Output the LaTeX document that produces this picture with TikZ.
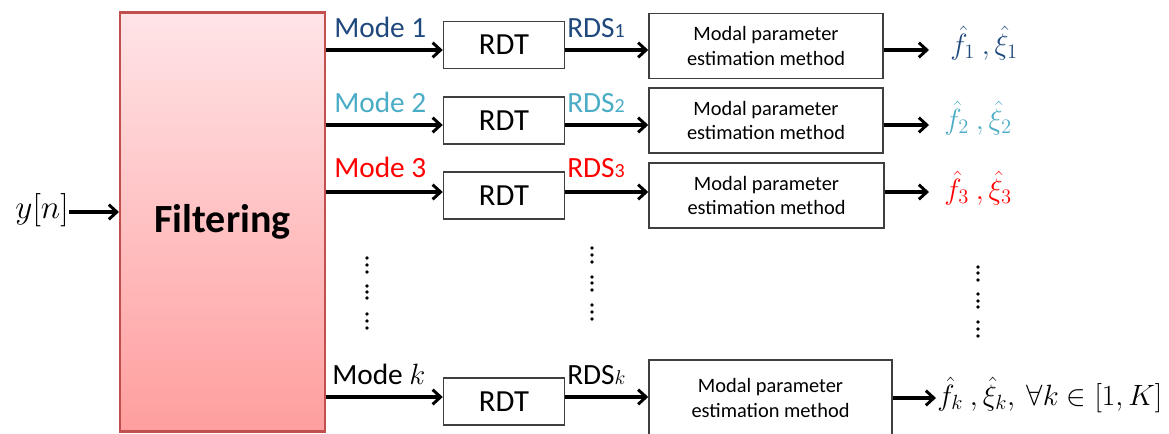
\RequirePackage{fix-cm}
\documentclass[tikz,border=0pt]{standalone}
\usepackage{fontspec}
\setmainfont{Carlito}
\usetikzlibrary{arrows.meta}
\definecolor{darkblue}{HTML}{1F497D}
\definecolor{lightblue}{HTML}{4BACC6}
\definecolor{boxgray}{HTML}{3F3F3F}
\definecolor{filtborder}{HTML}{C0504D}
\definecolor{filttop}{HTML}{FFE4E7}
\definecolor{filtbot}{HTML}{FF9E9E}
\newcommand{\modefont}{\fontsize{22}{26}\selectfont}
\newcommand{\smallnum}{\fontsize{15}{18}\selectfont}
\tikzset{
  arr/.style={line width=2.3pt, -{Straight Barb[length=6pt,width=11pt,line width=2.2pt]}},
  box/.style={draw=boxgray, line width=1.1pt, fill=white, inner sep=0pt, align=center},
  rdtbox/.style={box, minimum width=90.75pt, minimum height=35.25pt, font=\fontsize{23}{27}\selectfont},
  mpebox/.style={box, minimum width=175.5pt, minimum height=48.75pt, font=\fontsize{15.3}{18.2}\selectfont},
  lbl/.style={anchor=base west, inner sep=0pt, font=\modefont},
  outlbl/.style={anchor=west, inner sep=0pt, font=\fontsize{22}{26}\selectfont},
  dotmark/.style={fill=black, draw=none}
}
\begin{document}
\begin{tikzpicture}[x=0.75pt, y=-0.75pt]
\useasboundingbox (0,0) rectangle (1169,433);
\clip (0,0) rectangle (1169,433);
% filtering block
\node[draw=filtborder, line width=2.2pt, top color=filttop, bottom color=filtbot,
      minimum width=153.75pt, minimum height=314.25pt, inner sep=0pt,
      font=\fontsize{30}{34}\selectfont\bfseries] (filt) at (222.5,222) {Filtering};
% input
\node[anchor=east, inner sep=0pt, font=\fontsize{25}{29}\selectfont] (yn) at (69,210) {$y[n]$};
\coordinate (yin) at (119,212);
\draw[arr] (yn.east |- yin) -- (yin);

% row y-levels
\coordinate (a1) at (0,50);
\coordinate (a2) at (0,125);
\coordinate (a3) at (0,192);
\coordinate (a4) at (0,397);

% RDT boxes
\node[rdtbox] (rdt1) at (504,45) {RDT};
\node[rdtbox] (rdt2) at (504,120.5) {RDT};
\node[rdtbox] (rdt3) at (504,195.5) {RDT};
\node[rdtbox] (rdt4) at (504,401.5) {RDT};

% modal parameter boxes
\node[mpebox] (mpe1) at (766,46) {Modal parameter\\estimation method};
\node[mpebox] (mpe2) at (766,120.5) {Modal parameter\\estimation method};
\node[mpebox, minimum width=176.25pt] (mpe3) at (766.5,195.5) {Modal parameter\\estimation method};
\node[mpebox, minimum width=182.25pt, minimum height=57pt] (mpe4) at (770.5,398) {Modal parameter\\estimation method};

% arrows filter -> RDT
\draw[arr] (filt.east |- a1) -- (rdt1.west |- a1);
\draw[arr] (filt.east |- a2) -- (rdt2.west |- a2);
\draw[arr] (filt.east |- a3) -- (rdt3.west |- a3);
\draw[arr] (filt.east |- a4) -- (rdt4.west |- a4);
% arrows RDT -> modal
\draw[arr] (rdt1.east |- a1) -- (mpe1.west |- a1);
\draw[arr] (rdt2.east |- a2) -- (mpe2.west |- a2);
\draw[arr] (rdt3.east |- a3) -- (mpe3.west |- a3);
\draw[arr] (rdt4.east |- a4) -- (mpe4.west |- a4);
% output arrows
\coordinate (e1) at (929,50);
\coordinate (e2) at (929,125);
\coordinate (e3) at (929,192);
\coordinate (e4) at (936,398);
\draw[arr] (mpe1.east |- e1) -- (e1);
\draw[arr] (mpe2.east |- e2) -- (e2);
\draw[arr] (mpe3.east |- e3) -- (e3);
\draw[arr] (mpe4.east |- e4) -- (e4);

% mode labels
\node[lbl, text=darkblue] (m1) at (334,37) {Mode 1};
\node[lbl, text=lightblue] (m2) at (334,112) {Mode 2};
\node[lbl, text=red] (m3) at (334,177) {Mode 3};
\node[lbl, text=black] (m4) at (332,384) {Mode $k$};
% RDS labels
\node[lbl, text=darkblue] (r1) at (567,37) {RDS{\smallnum 1}};
\node[lbl, text=lightblue] (r2) at (567,112) {RDS{\smallnum 2}};
\node[lbl, text=red] (r3) at (567,177) {RDS{\smallnum 3}};
\node[lbl, text=black] (r4) at (567,384) {RDS{\smallnum$k$}};

% outputs
\node[outlbl, text=darkblue] (o1) at (950,43) {$\hat{f}_1\ ,\hat{\xi}_1$};
\node[outlbl, text=lightblue] (o2) at (944,118) {$\hat{f}_2\ ,\hat{\xi}_2$};
\node[outlbl, text=red] (o3) at (944,188) {$\hat{f}_3\ ,\hat{\xi}_3$};
\node[outlbl, text=black] (o4) at (937,395) {$\hat{f}_k\ ,\hat{\xi}_k,\ \forall k\in[1,K]$};

% vertical dots
\foreach \yy in {258,265,272, 286,292,298, 314,321,328} \fill[dotmark] (367,\yy) circle (1.8);
\foreach \yy in {248,255,262, 277,283,290, 305,312,319} \fill[dotmark] (592,\yy) circle (1.8);
\foreach \yy in {267,273,280, 294,301,307, 322,329,336} \fill[dotmark] (978,\yy) circle (1.8);
\end{tikzpicture}
\end{document}
